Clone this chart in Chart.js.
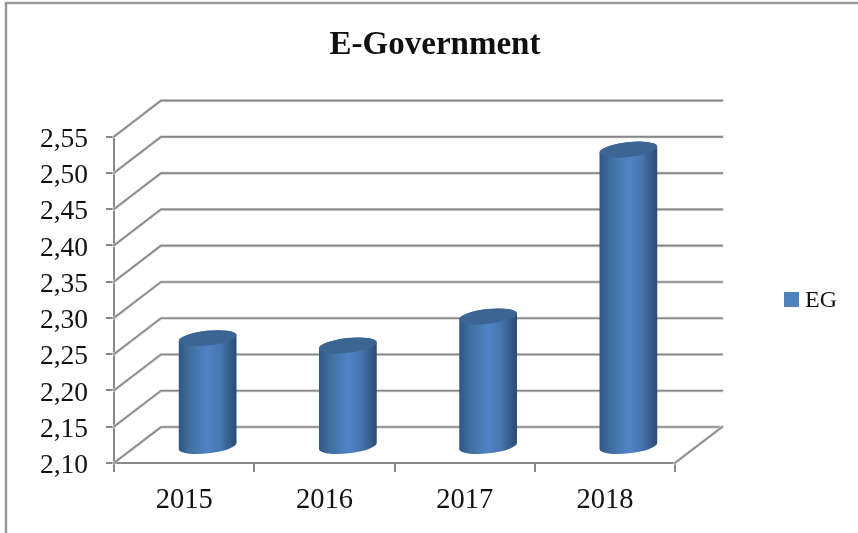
<!DOCTYPE html>
<html>
<head>
<meta charset="utf-8">
<title>E-Government</title>
<script src="https://cdn.jsdelivr.net/npm/chart.js@4"></script>
<style>
  html, body { margin: 0; padding: 0; background: #fff; }
  canvas { display: block; }
</style>
</head>
<body>
<canvas id="egChart" width="858" height="533"></canvas>
<script>
const categories = ['2015', '2016', '2017', '2018'];
const egValues = [2.25, 2.24, 2.28, 2.51];
const seriesName = 'EG';
const yMin = 2.10;
const yMax = 2.55;
const yStep = 0.05;

const FONT = '"Liberation Serif", serif';
const TEXT = '#111111';
const LINE = '#888888';
const BLUE = '#4F81BD';

// depth of the fake 3D box, in pixels
const DEPTH_X = 47;
const DEPTH_Y = 36;
// how far the cylinders stand back from the front edge
const BAR_SHIFT_X = 23.5;
const BAR_SHIFT_Y = 16;

function strokeSoft(ctx, pts) {
  ctx.lineCap = 'square';
  [['#d4d4d4', 3], [LINE, 1.6]].forEach(([color, w]) => {
    ctx.strokeStyle = color;
    ctx.lineWidth = w;
    ctx.beginPath();
    pts.forEach((p, i) => i ? ctx.lineTo(p[0], p[1]) : ctx.moveTo(p[0], p[1]));
    ctx.stroke();
  });
}

// page frame, wall lines and floor, drawn behind the bars
const box3d = {
  id: 'box3d',
  // title is centred over the whole frame, not just the plot side
  afterLayout(chart) {
    chart.titleBlock.right = chart.width;
  },
  beforeDatasetsDraw(chart) {
    const { ctx, chartArea: a, scales: { y } } = chart;
    ctx.save();
    strokeSoft(ctx, [[6, 533], [6, 3], [858, 3]]);
    y.ticks.forEach(t => {
      const py = y.getPixelForValue(t.value);
      strokeSoft(ctx, [[a.left, py], [a.left + DEPTH_X, py - DEPTH_Y], [a.right + DEPTH_X, py - DEPTH_Y]]);
    });
    strokeSoft(ctx, [[a.right, a.bottom], [a.right + DEPTH_X, a.bottom - DEPTH_Y]]);
    ctx.restore();
  }
};

// replaces the flat bars with cylinders standing mid-depth
const cylinders = {
  id: 'cylinders',
  beforeDatasetDraw(chart, args) {
    const { ctx } = chart;
    const tilt = -0.11;
    const ry = 7.4;
    args.meta.data.forEach(bar => {
      const cx = bar.x + BAR_SHIFT_X;
      const rx = bar.width / 2;
      const top = bar.y - BAR_SHIFT_Y;
      const base = bar.base - BAR_SHIFT_Y;

      const grad = ctx.createLinearGradient(cx - rx, 0, cx + rx, 0);
      grad.addColorStop(0, '#2f5585');
      grad.addColorStop(0.2, '#41709f');
      grad.addColorStop(0.5, '#5083c6');
      grad.addColorStop(0.72, '#4676b0');
      grad.addColorStop(1, '#2a4a72');

      ctx.save();
      ctx.fillStyle = grad;
      ctx.beginPath();
      ctx.ellipse(cx, top, rx, ry, tilt, Math.PI, 0, false);
      ctx.ellipse(cx, base, rx, ry, tilt, 0, Math.PI, false);
      ctx.closePath();
      ctx.fill();

      ctx.fillStyle = '#3c6594';
      ctx.beginPath();
      ctx.ellipse(cx, top, rx, ry, tilt, 0, Math.PI * 2);
      ctx.fill();
      ctx.restore();
    });
    return false;
  }
};

// legend key sits closer to its text than the stock legend allows
const sideLegend = {
  id: 'sideLegend',
  afterDraw(chart) {
    const { ctx } = chart;
    ctx.save();
    ctx.fillStyle = BLUE;
    ctx.fillRect(784, 292, 15, 15);
    ctx.fillStyle = TEXT;
    ctx.font = '24px ' + FONT;
    ctx.textBaseline = 'middle';
    ctx.fillText(chart.data.datasets[0].label, 805, 301);
    ctx.restore();
  }
};

new Chart(document.getElementById('egChart').getContext('2d'), {
  type: 'bar',
  data: {
    labels: categories,
    datasets: [{
      label: seriesName,
      data: egValues,
      base: yMin,
      backgroundColor: BLUE,
      barPercentage: 0.414,
      categoryPercentage: 1
    }]
  },
  plugins: [box3d, cylinders, sideLegend],
  options: {
    responsive: false,
    animation: false,
    layout: { padding: { left: 12, right: 183, top: 0, bottom: 0 } },
    plugins: {
      legend: { display: false },
      tooltip: { enabled: false },
      title: {
        display: true,
        text: 'E-Government',
        color: TEXT,
        font: { family: FONT, size: 33, weight: 'bold' },
        padding: { top: 26, bottom: 71 }
      }
    },
    scales: {
      x: {
        afterFit(scale) { scale.height = 70; },
        grid: { drawOnChartArea: false, color: LINE, lineWidth: 2, tickLength: 9 },
        border: { color: LINE, width: 2 },
        ticks: { color: TEXT, font: { family: FONT, size: 28.5 }, padding: 11, maxRotation: 0 }
      },
      y: {
        min: yMin,
        max: yMax,
        afterFit(scale) { scale.width = 102; },
        grid: { drawOnChartArea: false, color: LINE, lineWidth: 2, tickLength: 8 },
        border: { color: LINE, width: 2 },
        ticks: {
          stepSize: yStep,
          color: TEXT,
          font: { family: FONT, size: 27.5 },
          padding: 18,
          labelOffset: 3,
          callback: v => v.toFixed(2).replace('.', ',')
        }
      }
    }
  }
});
</script>
</body>
</html>
